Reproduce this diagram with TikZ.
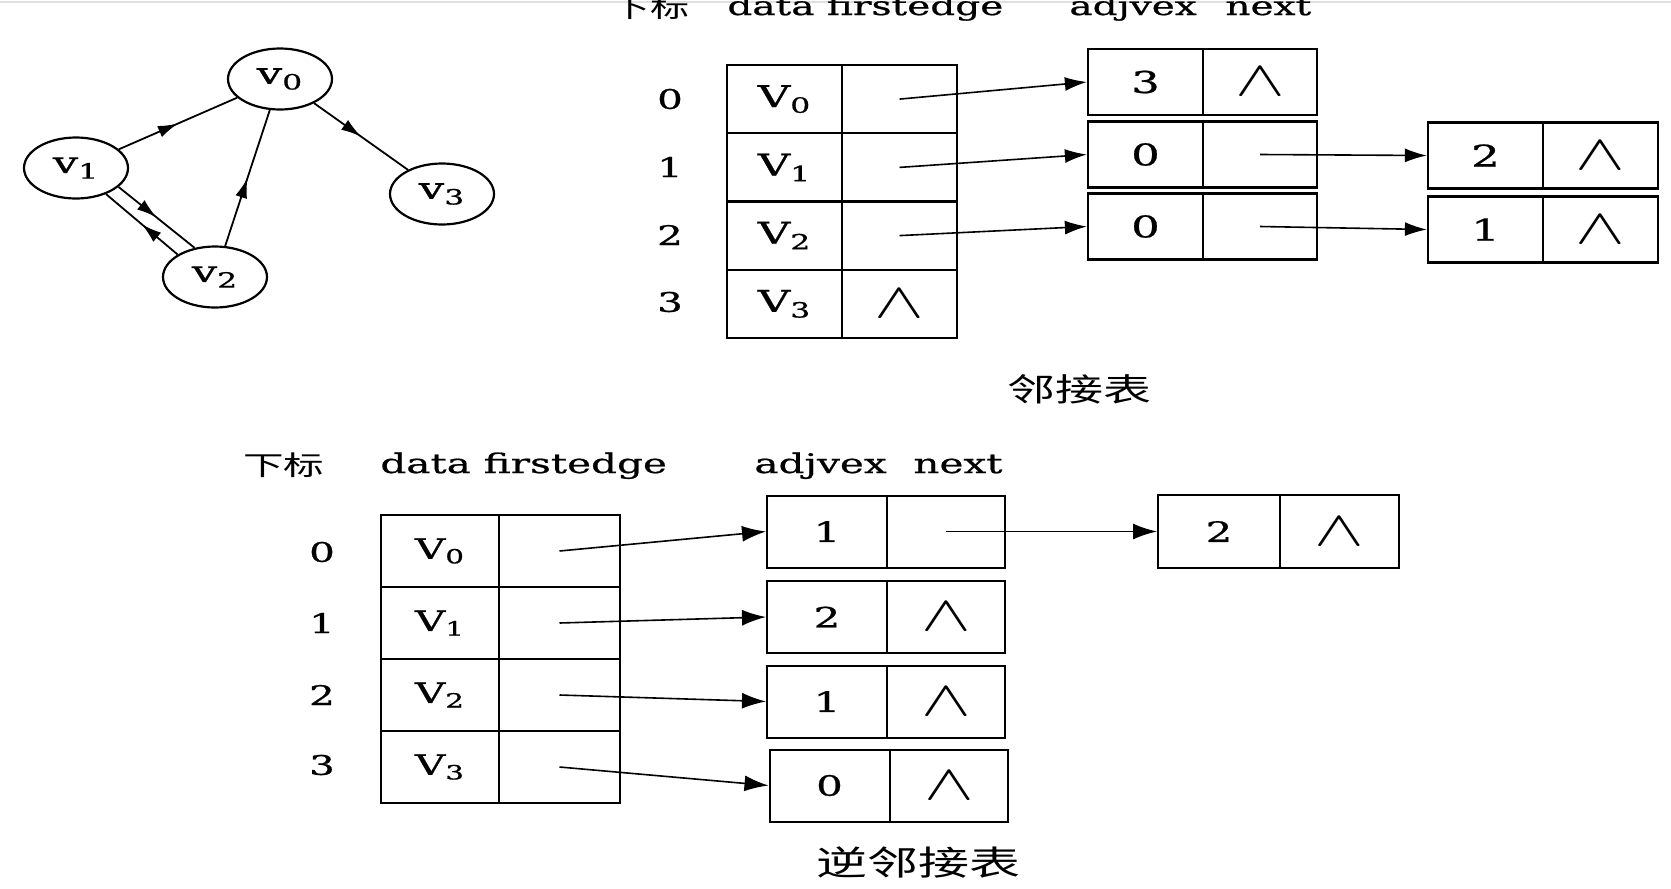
\documentclass[tikz,border=0pt]{standalone}
\usepackage{graphicx}
\usepackage{fontspec}
\setmainfont{DejaVu Serif}[FakeStretch=1.5, FakeBold=0.8]
\newfontfamily\cjk{Noto Sans CJK SC}[FakeStretch=1.5]
\usetikzlibrary{shapes.geometric,arrows.meta,decorations.markings}
\newcommand\nullsym{\scalebox{1.5}[1]{\fontsize{24}{24}\selectfont$\wedge$}}
\begin{document}
\begin{tikzpicture}[x=0.5pt,y=-0.5pt,
  vert/.style={draw, ellipse, line width=1.1pt, minimum width=52pt, minimum height=30.5pt, inner sep=0pt, font=\fontsize{15}{15}\selectfont},
  gedge/.style={line width=0.9pt, postaction={decorate}, decoration={markings, mark=at position 0.5 with {\arrow{Latex[length=10pt,width=6pt]}}}},
  tcell/.style={draw, line width=1.1pt, inner sep=0pt, minimum width=57.5pt, minimum height=34.1pt, font=\fontsize{15}{15}\selectfont},
  ecell/.style={tcell, minimum height=33pt},
  bcell/.style={draw, line width=1pt, inner sep=0pt, minimum height=36pt, font=\fontsize{14}{14}\selectfont},
  idx/.style={font=\fontsize{13.5}{13.5}\selectfont, inner sep=0pt},
  hdr/.style={font=\fontsize{13}{13}\selectfont, inner sep=0pt, anchor=base west},
  captext/.style={font=\cjk\fontsize{16}{16}\selectfont, inner sep=0pt},
  arr/.style={line width=0.8pt, -{Latex[length=11pt,width=7pt]}},
  barr/.style={line width=0.8pt, -{Latex[length=12pt,width=8pt]}}
]
\useasboundingbox (0,0) rectangle (1671,889);
\draw[gray!25, line width=1pt] (0,2) -- (1671,2);

% ---------------- graph ----------------
\node[vert] (V0) at (280,79) {v\textsubscript{0}};
\node[vert] (V1) at (76,168) {v\textsubscript{1}};
\node[vert] (V2) at (215,277) {v\textsubscript{2}};
\node[vert] (V3) at (442,194) {v\textsubscript{3}};
\draw[gedge] (V1) -- (V0);
\draw[gedge] (V0) -- (V3);
\draw[gedge] (V2) -- (V0);
\draw[gedge] (V1.-24) -- (V2.125);
\draw[gedge] (V2.149) -- (V1.-41);

% ---------------- adjacency list ----------------
\node[hdr] (th1) at (611,17) {\cjk 下标};
\node[hdr] (th2) at (727,15) {data firstedge};
\node[hdr] (th3) at (1069,15) {adjvex};
\node[hdr] (th4) at (1225,15) {next};

\node[idx] (ti0) at (670,99) {0};
\node[idx] (ti1) at (670,167) {1};
\node[idx] (ti2) at (670,235) {2};
\node[idx] (ti3) at (670,302) {3};

\node[tcell] (t0d) at (784.5,99.1) {V\textsubscript{0}};
\node[tcell] (t0f) at (899.5,99.1) {};
\node[tcell] (t1d) at (784.5,167.4) {V\textsubscript{1}};
\node[tcell] (t1f) at (899.5,167.4) {};
\node[tcell] (t2d) at (784.5,235.6) {V\textsubscript{2}};
\node[tcell] (t2f) at (899.5,235.6) {};
\node[tcell] (t3d) at (784.5,303.9) {V\textsubscript{3}};
\node[tcell] (t3f) at (899.5,303.9) {\nullsym};

\node[ecell] (e0a) at (1145.5,82) {3};
\node[ecell, minimum width=57pt] (e0b) at (1260,82) {\nullsym};
\node[ecell] (e1a) at (1145.5,154.5) {0};
\node[ecell, minimum width=57pt] (e1b) at (1260,154.5) {};
\node[ecell] (e2a) at (1145.5,226.5) {0};
\node[ecell, minimum width=57pt] (e2b) at (1260,226.5) {};

\node[ecell] (r1a) at (1485.5,155.5) {2};
\node[ecell] (r1b) at (1600.5,155.5) {\nullsym};
\node[ecell] (r2a) at (1485.5,229.5) {1};
\node[ecell] (r2b) at (1600.5,229.5) {\nullsym};

\draw[arr] (t0f.center) -- (e0a.west);
\draw[arr] (t1f.center) -- (e1a.west);
\draw[arr] (t2f.center) -- (e2a.west);
\draw[arr] (e1b.center) -- (r1a.west);
\draw[arr] (e2b.center) -- (r2a.west);

\node[captext] (c1) at (1079,389) {邻接表};

% ---------------- inverse adjacency list ----------------
\node[hdr, font=\fontsize{13.5}{13.5}\selectfont] (bh1) at (243,475) {\cjk 下标};
\node[hdr, font=\fontsize{13.5}{13.5}\selectfont] (bh2) at (380,473) {data firstedge};
\node[hdr, font=\fontsize{13.5}{13.5}\selectfont] (bh3) at (754,473) {adjvex};
\node[hdr, font=\fontsize{13.5}{13.5}\selectfont] (bh4) at (913,473) {next};

\node[idx] (bi0) at (322,552) {0};
\node[idx] (bi1) at (322,623) {1};
\node[idx] (bi2) at (322,695) {2};
\node[idx] (bi3) at (322,765) {3};

\node[bcell, minimum width=59pt] (b0d) at (440,551) {V\textsubscript{0}};
\node[bcell, minimum width=60.5pt] (b0f) at (559.5,551) {};
\node[bcell, minimum width=59pt] (b1d) at (440,623) {V\textsubscript{1}};
\node[bcell, minimum width=60.5pt] (b1f) at (559.5,623) {};
\node[bcell, minimum width=59pt] (b2d) at (440,695) {V\textsubscript{2}};
\node[bcell, minimum width=60.5pt] (b2f) at (559.5,695) {};
\node[bcell, minimum width=59pt] (b3d) at (440,767) {V\textsubscript{3}};
\node[bcell, minimum width=60.5pt] (b3f) at (559.5,767) {};

\node[bcell, minimum width=60pt] (g0a) at (827,531.5) {1};
\node[bcell, minimum width=59pt] (g0b) at (946,531.5) {};
\node[bcell, minimum width=60pt] (g1a) at (827,617) {2};
\node[bcell, minimum width=59pt] (g1b) at (946,617) {\nullsym};
\node[bcell, minimum width=60pt] (g2a) at (827,701.5) {1};
\node[bcell, minimum width=59pt] (g2b) at (946,701.5) {\nullsym};
\node[bcell, minimum width=60pt] (g3a) at (829.5,785.5) {0};
\node[bcell, minimum width=59pt] (g3b) at (949,785.5) {\nullsym};

\node[bcell, minimum width=61pt, minimum height=36.5pt] (h0a) at (1219,531.5) {2};
\node[bcell, minimum width=59.5pt, minimum height=36.5pt] (h0b) at (1339.5,531.5) {\nullsym};

\draw[barr] (b0f.center) -- (g0a.west);
\draw[barr] (b1f.center) -- (g1a.west);
\draw[barr] (b2f.center) -- (g2a.west);
\draw[barr] (b3f.center) -- (g3a.west);
\draw[barr] (g0b.center) -- (h0a.west);

\node[captext, font=\cjk\fontsize{17}{17}\selectfont] (c2) at (918,863) {逆邻接表};
\end{tikzpicture}
\end{document}
